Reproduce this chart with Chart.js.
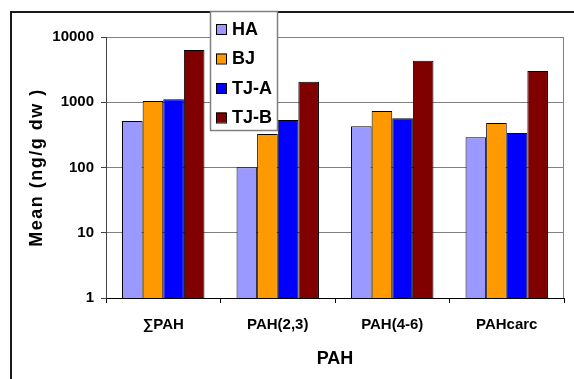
<!DOCTYPE html>
<html>
<head>
<meta charset="utf-8">
<script src="https://cdn.jsdelivr.net/npm/chart.js@4.4.1/dist/chart.umd.min.js"></script>
<style>
  html, body { margin: 0; padding: 0; background: #fff; }
  #wrap { width: 574px; height: 379px; }
</style>
</head>
<body>
<div id="wrap"><canvas id="pahChart" width="574" height="379"></canvas></div>
<script>
// Chart data
const categories = ["\u2211PAH", "PAH(2,3)", "PAH(4-6)", "PAHcarc"];
const seriesNames = ["HA", "BJ", "TJ-A", "TJ-B"];
const haValues = [515, 101, 428, 290];
const bjValues = [1047, 326, 735, 480];
const tjaValues = [1112, 534, 567, 337];
const tjbValues = [6300, 2054, 4320, 3020];
const yTicks = [1, 10, 100, 1000, 10000];
const seriesColors = ["#9999FF", "#FF9900", "#0000FF", "#800000"];

const FONT = "'Liberation Sans', Arial, sans-serif";

// Outer frame, plot border and the boxed legend
const framePlugin = {
  id: "frame",
  beforeDraw(chart) {
    const ctx = chart.ctx;
    ctx.save();
    ctx.fillStyle = "#fff";
    ctx.fillRect(0, 0, chart.width, chart.height);
    ctx.strokeStyle = "#1a1a1a";
    ctx.lineWidth = 2;
    ctx.strokeRect(11, 12, 700, 500);
    ctx.restore();

    // letter-spaced y axis title
    const ys = chart.scales.y;
    if (ys && !ys._spaced) {
      const orig = ys.drawTitle;
      ys.drawTitle = function () {
        const c = this.ctx;
        c.save();
        c.letterSpacing = "1.5px";
        orig.call(this);
        c.restore();
      };
      ys._spaced = true;
    }
  },
  beforeDatasetsDraw(chart) {
    const { ctx, chartArea } = chart;
    ctx.save();
    ctx.strokeStyle = "#808080";
    ctx.lineWidth = 1;
    ctx.beginPath();
    ctx.moveTo(Math.round(chartArea.right) - 0.5, chartArea.top);
    ctx.lineTo(Math.round(chartArea.right) - 0.5, chartArea.bottom);
    ctx.stroke();
    ctx.restore();
  },
  afterDraw(chart) {
    const ctx = chart.ctx;
    const boxX = 210, boxY = 11, boxW = 67, boxH = 119;
    ctx.save();
    ctx.fillStyle = "#fff";
    ctx.fillRect(boxX, boxY, boxW, boxH);
    ctx.strokeStyle = "#808080";
    ctx.lineWidth = 1.5;
    ctx.strokeRect(boxX + 0.5, boxY + 0.5, boxW, boxH);
    ctx.font = "bold 18px " + FONT;
    ctx.textBaseline = "middle";
    chart.data.datasets.forEach((ds, i) => {
      const cy = 29 + i * 29.5;
      ctx.fillStyle = ds.backgroundColor;
      ctx.fillRect(216, cy - 5, 10, 10);
      ctx.strokeStyle = "#000";
      ctx.lineWidth = 1;
      ctx.strokeRect(216.5, cy - 4.5, 10, 10);
      ctx.fillStyle = "#000";
      ctx.fillText(ds.label, 232, cy + 1);
    });
    ctx.restore();
  },
};

function makeDataset(label, values, color) {
  return {
    label: label,
    data: values,
    backgroundColor: color,
    borderColor: "#000",
    borderWidth: 1,
    barPercentage: 1,
    categoryPercentage: 0.72,
  };
}

new Chart(document.getElementById("pahChart"), {
  type: "bar",
  data: {
    labels: categories,
    datasets: [
      makeDataset(seriesNames[0], haValues, seriesColors[0]),
      makeDataset(seriesNames[1], bjValues, seriesColors[1]),
      makeDataset(seriesNames[2], tjaValues, seriesColors[2]),
      makeDataset(seriesNames[3], tjbValues, seriesColors[3]),
    ],
  },
  options: {
    responsive: false,
    animation: false,
    layout: { padding: { left: 0, top: 37, right: 10, bottom: 0 } },
    plugins: {
      legend: { display: false },
      tooltip: { enabled: false },
    },
    scales: {
      x: {
        afterFit: (scale) => { scale.height = 81; },
        grid: {
          display: true,
          drawOnChartArea: false,
          offset: true,
          tickLength: 5,
          color: "#000",
        },
        border: { color: "#000", width: 1 },
        ticks: {
          color: "#000",
          padding: 13,
          font: { family: FONT, size: 15, weight: "bold" },
        },
        title: {
          display: true,
          text: "PAH",
          color: "#000",
          font: { family: FONT, size: 18, weight: "bold" },
          padding: { top: 0, bottom: 9 },
        },
      },
      y: {
        type: "logarithmic",
        min: 1,
        max: 10000,
        afterBuildTicks: (scale) => {
          scale.ticks = yTicks.map((v) => ({ value: v }));
        },
        afterFit: (scale) => { scale.width = 106; },
        grid: {
          color: "#808080",
          lineWidth: 1,
          tickLength: 5,
          tickColor: "#404040",
        },
        border: { color: "#404040", width: 1 },
        ticks: {
          color: "#000",
          padding: 7,
          font: { family: FONT, size: 15, weight: "bold" },
          callback: (v) => String(v),
        },
        title: {
          display: true,
          text: "Mean (ng/g dw )",
          color: "#000",
          font: { family: FONT, size: 18, weight: "bold" },
          padding: { top: 26, bottom: 0 },
        },
      },
    },
  },
  plugins: [framePlugin],
});
</script>
</body>
</html>
